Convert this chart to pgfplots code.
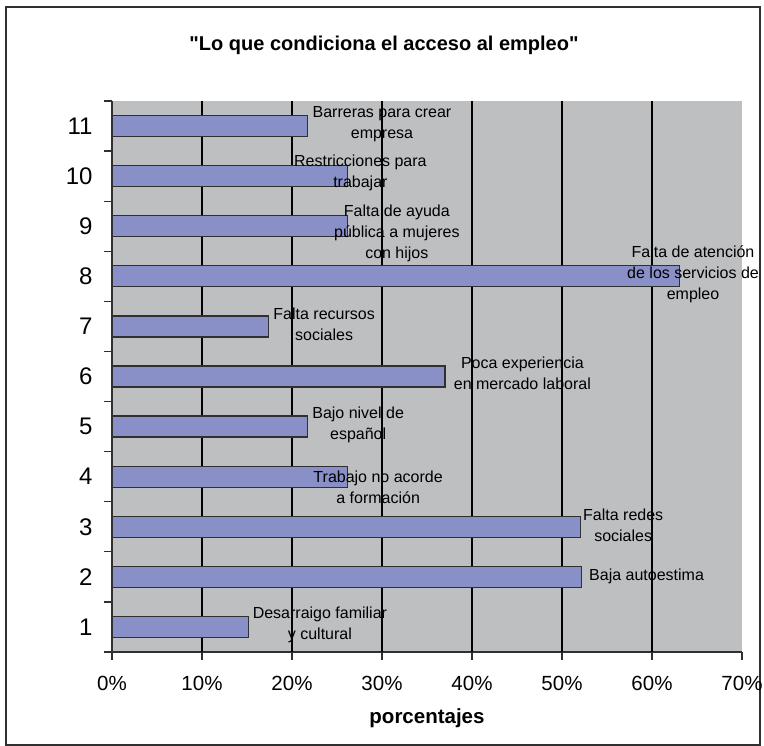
\documentclass[border=0pt]{standalone}
\usepackage{fontspec}
\setmainfont{Liberation Sans}
\newfontfamily\plainfont{Liberation Sans}
\usepackage{pgfplots}
\pgfplotsset{compat=1.18}
\definecolor{PlotGrey}{HTML}{BDBFC1}
\definecolor{BarBlue}{HTML}{8990C8}
\definecolor{Frame}{HTML}{303030}

\begin{document}
\begin{tikzpicture}[x=1pt,y=1pt]
  % page: 764 x 746, plot area lower-left at (112,652) in image pixels
  \useasboundingbox (-112,-94) rectangle (652,652);
  \draw[Frame,line width=1.2pt] (-106,-93) rectangle (648,645);
  \begin{axis}[
    at={(0,0)},anchor=origin,
    scale only axis,width=630pt,height=551pt,
    xmin=0,xmax=70,ymin=0.5,ymax=11.5,
    clip=false,
    axis background/.style={fill=PlotGrey},
    axis x line*=bottom,axis y line*=left,
    axis line style={-,draw=Frame,line width=1.3pt},
    tick align=outside,major tick length=8pt,
    tick style={draw=Frame,line width=1.2pt},
    xtick={0,10,20,30,40,50,60,70},
    xticklabels={0\%,10\%,20\%,30\%,40\%,50\%,60\%,70\%},
    extra x ticks={10,20,30,40,50,60},
    extra x tick labels={},
    extra x tick style={grid=major,major tick length=0pt},
    grid style={black,line width=1.2pt},
    ytick={0.5,1.5,...,11.5},
    y tick label as interval,
    yticklabels={1,2,3,4,5,6,7,8,9,10,11},
    xticklabel style={font=\fontsize{20.5}{22}\selectfont,yshift=-13pt},
    yticklabel style={font=\fontsize{24}{26}\selectfont,xshift=-8pt},
  ]
    \addplot[xbar,bar width=21pt,fill=BarBlue,draw=Frame,line width=1.2pt]
      coordinates {(15.2,1)(52.2,2)(52.1,3)(26.2,4)(21.7,5)(37.0,6)
                   (17.4,7)(63.1,8)(26.2,9)(26.2,10)(21.7,11)};
    \begin{scope}[every node/.style={align=center,text=black,
        font=\fontsize{16}{21}\selectfont}]
      \node at (axis cs:30.0,11.03) {Barreras para crear\\empresa};
      \node at (axis cs:27.6,10.07) {Restricciones para\\trabajar};
      \node at (axis cs:31.65,8.865) {Falta de ayuda\\pública a mujeres\\con hijos};
      \node at (axis cs:64.56,8.046) {Falta de atención\\de los servicios de\\empleo};
      \node at (axis cs:23.57,7.04) {Falta recursos\\sociales};
      \node at (axis cs:45.6,6.07) {Poca experiencia\\en mercado laboral};
      \node at (axis cs:27.35,5.04) {Bajo nivel de\\español};
      \node at (axis cs:29.57,3.79) {Trabajo no acorde\\a formación};
      \node at (axis cs:56.8,3.035) {Falta redes\\sociales};
      \node at (axis cs:59.4,2.017) {Baja autoestima};
      \node at (axis cs:23.1,1.04) {Desarraigo familiar\\y cultural};
    \end{scope}
  \end{axis}
  \node[font=\plainfont\fontsize{20}{22}\selectfont\bfseries] at (272,607)
    {"Lo que condiciona el acceso al empleo"};
  \node[font=\fontsize{20.5}{22}\selectfont\bfseries] at (315,-66) {porcentajes};
\end{tikzpicture}
\end{document}
